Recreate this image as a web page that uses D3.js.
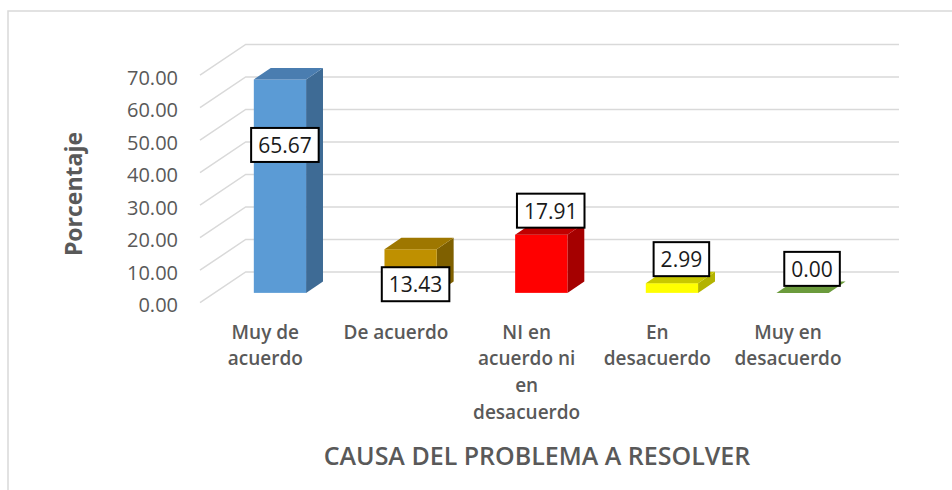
<!DOCTYPE html>
<html>
<head>
<meta charset="utf-8">
<script src="https://cdn.jsdelivr.net/npm/d3@7/dist/d3.min.js"></script>
<style>
    body { margin: 0; background: #fff; }
    svg { display: block; font-family: "Open Sans", "Noto Sans", sans-serif; }
</style>
</head>
<body>
<div id="chart"></div>
<script>
// Data
var categories = ["Muy de acuerdo", "De acuerdo", "NI en acuerdo ni en desacuerdo", "En desacuerdo", "Muy en desacuerdo"];
var categoryLines = [["Muy de", "acuerdo"], ["De acuerdo"], ["NI en", "acuerdo ni", "en", "desacuerdo"], ["En", "desacuerdo"], ["Muy en", "desacuerdo"]];
var values = [65.67, 13.43, 17.91, 2.99, 0.00];
var yTicks = [0, 10, 20, 30, 40, 50, 60, 70];
var yTitle = "Porcentaje";
var xTitle = "CAUSA DEL PROBLEMA A RESOLVER";

// Styles
var frontColors = ["#5B9BD5", "#BF9000", "#FF0000", "#FFFF00", "#70AD47"];
var sideColors = ["#3E6B95", "#7F6000", "#A50000", "#B3B300", "#4E7A32"];
var topColors = ["#4A7DB0", "#9E7700", "#C00000", "#C8C800", "#6B9B3C"];
var labelNudge = [89.5, 59, 0, 0, 0]; // labels moved by hand in the original

// SVG
var svgWidth = 952;
var svgHeight = 490;

var svg = d3.select("#chart")
    .append("svg")
    .attr("width", svgWidth)
    .attr("height", svgHeight);

// Frame
svg.append("path")
    .attr("d", "M8,490 L8,11 L952,11")
    .attr("fill", "none")
    .attr("stroke", "#D9D9D9")
    .attr("stroke-width", 1.5);

// 3D geometry
var floorLeft = 200;
var floorRight = 853.3;
var depthX = 45.7;
var depthY = -30.7;
var barFront = 0.32;
var barBack = 0.69;

var xBand = d3.scaleBand()
    .domain(categories)
    .range([floorLeft, floorRight])
    .paddingInner(0.6)
    .paddingOuter(0.3);

var yScale = d3.scaleLinear()
    .domain([0, 70])
    .range([302.7, 75.2]);

// Gridlines (side wall diagonal + back wall)
var grid = svg.append("g");
grid.selectAll("path")
    .data(yTicks)
    .enter()
    .append("path")
    .attr("d", d => {
        var y = yScale(d);
        return `M${floorLeft},${y} L${floorLeft + depthX},${y + depthY} L${floorRight + depthX},${y + depthY}`;
    })
    .attr("fill", "none")
    .attr("stroke", "#D9D9D9")
    .attr("stroke-width", 1.5);

// Y tick labels
svg.append("g")
    .selectAll("text")
    .data(yTicks)
    .enter()
    .append("text")
    .attr("x", 178)
    .attr("y", d => yScale(d) + 2)
    .attr("text-anchor", "end")
    .attr("dominant-baseline", "central")
    .attr("fill", "#595959")
    .style("font-size", "20px")
    .text(d => d3.format(".2f")(d));

// Bars
var dx = (barBack - barFront) * depthX;
var dy = (barBack - barFront) * depthY;

var bars = svg.append("g")
    .selectAll("g")
    .data(values)
    .enter()
    .append("g");

function barGeom(d, i) {
    var x0 = xBand(categories[i]) + barFront * depthX;
    var x1 = x0 + xBand.bandwidth();
    var yb = yScale(0) + barFront * depthY;
    var yt = yScale(d) + barFront * depthY;
    return { x0: x0, x1: x1, yb: yb, yt: yt };
}

bars.append("path")
    .attr("d", (d, i) => {
        var g = barGeom(d, i);
        return `M${g.x1},${g.yb} L${g.x1},${g.yt} L${g.x1 + dx},${g.yt + dy} L${g.x1 + dx},${g.yb + dy} Z`;
    })
    .attr("fill", (d, i) => sideColors[i]);

bars.append("rect")
    .attr("x", (d, i) => barGeom(d, i).x0)
    .attr("y", (d, i) => barGeom(d, i).yt)
    .attr("width", xBand.bandwidth())
    .attr("height", (d, i) => barGeom(d, i).yb - barGeom(d, i).yt)
    .attr("fill", (d, i) => frontColors[i]);

bars.append("path")
    .attr("d", (d, i) => {
        var g = barGeom(d, i);
        return `M${g.x0},${g.yt} L${g.x1},${g.yt} L${g.x1 + dx},${g.yt + dy} L${g.x0 + dx},${g.yt + dy} Z`;
    })
    .attr("fill", (d, i) => topColors[i]);

// Data labels
var labels = svg.append("g")
    .selectAll("g")
    .data(values)
    .enter()
    .append("g")
    .attr("transform", (d, i) => {
        var g = barGeom(d, i);
        var cx = (g.x0 + g.x1 + dx) / 2 + (labelNudge[i] ? -3.5 : 1);
        var cy = g.yt - 24 + labelNudge[i];
        return `translate(${cx}, ${cy})`;
    });

labels.append("rect")
    .attr("fill", "#fff")
    .attr("stroke", "#000")
    .attr("stroke-width", 2);

labels.append("text")
    .attr("text-anchor", "middle")
    .attr("dominant-baseline", "central")
    .attr("fill", "#1a1a1a")
    .style("font-size", "21px")
    .text(d => d3.format(".2f")(d));

labels.each(function () {
    var box = d3.select(this).select("text").node().getBBox();
    d3.select(this).select("rect")
        .attr("x", -box.width / 2 - 7)
        .attr("y", -17)
        .attr("width", box.width + 14)
        .attr("height", 34);
});

// Category labels
var catGroup = svg.append("g")
    .selectAll("text")
    .data(categoryLines)
    .enter()
    .append("text")
    .attr("text-anchor", "middle")
    .attr("fill", "#595959")
    .style("font-size", "19px")
    .style("font-weight", "600")
    .attr("transform", (d, i) => `translate(${xBand(categories[i]) + xBand.bandwidth() / 2}, 0)`);

catGroup.selectAll("tspan")
    .data(d => d)
    .enter()
    .append("tspan")
    .attr("x", 0)
    .attr("y", (d, j) => 331.7 + j * 26.7)
    .attr("dominant-baseline", "central")
    .text(d => d);

// Axis titles
svg.append("text")
    .attr("transform", "translate(73, 194) rotate(-90)")
    .attr("text-anchor", "middle")
    .attr("dominant-baseline", "central")
    .attr("fill", "#595959")
    .style("font-size", "23px")
    .style("font-weight", "bold")
    .text(yTitle);

svg.append("text")
    .attr("x", 537)
    .attr("y", 455)
    .attr("text-anchor", "middle")
    .attr("dominant-baseline", "central")
    .attr("fill", "#595959")
    .style("font-size", "25px")
    .style("font-weight", "600")
    .text(xTitle);
</script>
</body>
</html>
